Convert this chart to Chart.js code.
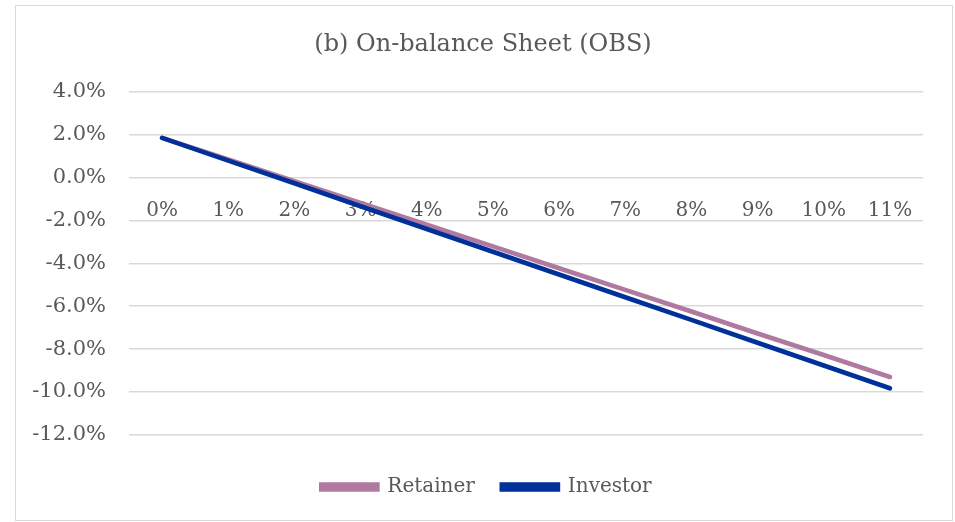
<!DOCTYPE html>
<html>
<head>
<meta charset="utf-8">
<script src="https://cdn.jsdelivr.net/npm/chart.js@4.4.1/dist/chart.umd.min.js"></script>
<style>
  html, body { margin: 0; padding: 0; background: #ffffff; }
  #wrap { position: relative; width: 955px; height: 522px; }
  #frame { position: absolute; left: 15px; top: 5px; width: 936px; height: 514px; border: 1px solid #D9D9D9; pointer-events: none; }
</style>
</head>
<body>
<div id="wrap">
  <canvas id="c" width="955" height="522"></canvas>
  <div id="frame"></div>
</div>
<script>
const categories = ['0%', '1%', '2%', '3%', '4%', '5%', '6%', '7%', '8%', '9%', '10%', '11%'];
const retainer = [1.85, 0.84, -0.17, -1.19, -2.20, -3.21, -4.23, -5.24, -6.25, -7.27, -8.28, -9.30];
const investor = [1.85, 0.79, -0.27, -1.34, -2.40, -3.46, -4.52, -5.58, -6.64, -7.71, -8.77, -9.83];
const yMin = -12;
const yMax = 4;
const yStep = 2;

const FONT = 'DejaVu Serif';
const TEXT = '#595959';
const GRID = '#D9D9D9';

// nudge title and legend centres to match the reference layout
const shiftBlocks = {
  id: 'shiftBlocks',
  afterLayout(chart) {
    if (chart.titleBlock) { chart.titleBlock.left += 27; }
    if (chart.legend) { chart.legend.left += 34; }
  }
};

new Chart(document.getElementById('c'), {
  type: 'line',
  data: {
    labels: categories,
    datasets: [
      { label: 'Retainer', data: retainer, borderColor: '#B0799F', backgroundColor: '#B0799F',
        borderWidth: 4.7, pointRadius: 0, borderCapStyle: 'round', tension: 0, order: 1 },
      { label: 'Investor', data: investor, borderColor: '#00319A', backgroundColor: '#00319A',
        borderWidth: 4.7, pointRadius: 0, borderCapStyle: 'round', tension: 0, order: 0 }
    ]
  },
  plugins: [shiftBlocks],
  options: {
    responsive: false,
    animation: false,
    layout: { padding: { left: 16, right: 32, top: 6, bottom: 15 } },
    plugins: {
      title: {
        display: true,
        text: '(b) On-balance Sheet (OBS)',
        color: TEXT,
        font: { family: FONT, size: 24, weight: 'normal' },
        padding: { top: 24, bottom: 33 }
      },
      legend: {
        position: 'bottom',
        reverse: true,
        title: { display: true, text: ' ', font: { size: 1 }, padding: { top: 0, bottom: 14 } },
        labels: {
          color: TEXT,
          font: { family: FONT, size: 20 },
          boxWidth: 56,
          boxHeight: 5,
          padding: 27
        }
      },
      tooltip: { enabled: false }
    },
    scales: {
      x: {
        type: 'category',
        offset: true,
        position: { y: 0 },
        grid: { display: false, drawTicks: false },
        border: { display: false },
        ticks: { color: TEXT, font: { family: FONT, size: 20 }, padding: 21, maxRotation: 0, autoSkip: false }
      },
      y: {
        min: yMin,
        max: yMax,
        ticks: {
          stepSize: yStep,
          color: TEXT,
          font: { family: FONT, size: 21 },
          padding: 23,
          callback: v => v.toFixed(1) + '%'
        },
        grid: { color: GRID, lineWidth: 1.5, drawTicks: false },
        border: { display: false },
        afterFit: s => { s.width = 113; }
      }
    }
  }
});
</script>
</body>
</html>
